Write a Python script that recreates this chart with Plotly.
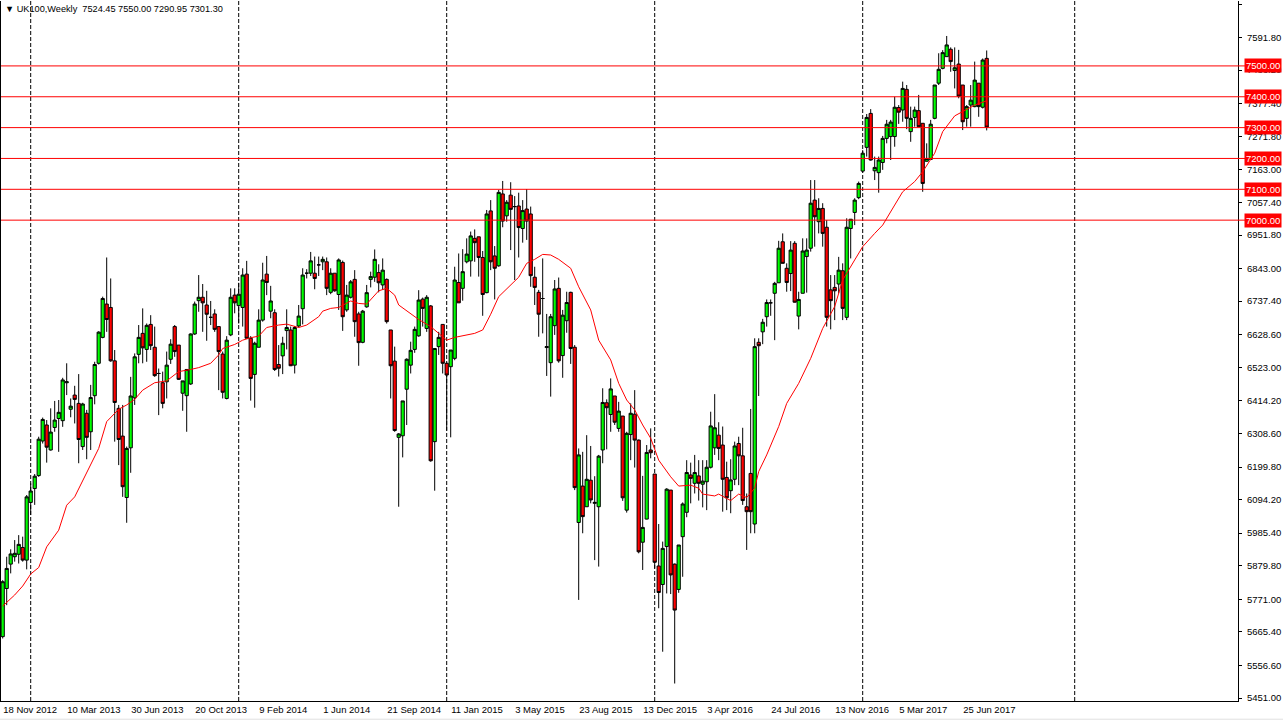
import pandas as pd
import plotly.graph_objects as go

symbol_title = "UK100,Weekly"
last_ohlc = ["7524.45", "7550.00", "7290.95", "7301.30"]
first_week = "2012-11-18"

opens = [5650,5806,5885,5909,5917,5939,5898,6085,6130,6172,6284,6336,6255,6328,6357,6350,6473,6387,6433,6406,
         6266,6374,6314,6431,6536,6620,6728,6717,6544,6390,6300,6101,6262,6424,6565,6633,6581,6662,6588,6503,
         6473,6476,6549,6655,6595,6439,6431,6469,6631,6739,6750,6725,6685,6696,6655,6566,6422,6628,6757,6723,
         6717,6825,6617,6500,6588,6676,6825,6705,6700,6532,6560,6642,6644,6530,6657,6713,6828,6828,6828,6855,
         6865,6865,6766,6828,6759,6863,6709,6750,6808,6696,6604,6719,6808,6815,6830,6790,6808,6644,6543,6296,
         6301,6452,6530,6581,6625,6744,6649,6722,6282,6590,6662,6536,6525,6552,6798,6779,6865,6868,6941,6946,
         6879,6765,7030,6884,6852,7085,7014,7081,7044,7046,6973,7036,7020,6815,6766,6746,6587,6538,6658,6779,
         6561,6674,6766,6588,6020,6138,6071,6157,6082,6071,6255,6408,6370,6430,6325,6365,6060,6305,6371,6287,
         5956,6031,6255,6177,5879,5819,5942,6125,5885,5803,5974,6053,6174,6147,6171,6144,6152,6199,6262,6303,
         6271,6166,6123,6160,6276,6236,6071,6179,6015,6604,6638,6687,6732,6763,6797,6930,6844,6827,6925,6689,
         6763,6882,6909,7065,6995,7038,6977,6774,6782,6793,6836,6685,6973,7025,7073,7159,7236,7346,7160,7154,
         7187,7265,7271,7271,7365,7357,7424,7287,7333,7355,7314,7191,7197,7330,7444,7492,7530,7554,7485,7506,
         7438,7330,7373,7368,7444,7366,7524.45]
highs = [5833,5909,5933,5963,5979,5974,6109,6147,6177,6298,6360,6352,6390,6414,6417,6489,6536,6422,6463,6501,
         6408,6385,6466,6541,6640,6752,6879,6811,6579,6401,6401,6266,6492,6568,6660,6714,6665,6692,6655,6519,
         6509,6574,6614,6660,6595,6479,6516,6633,6736,6822,6793,6771,6738,6711,6655,6574,6624,6779,6779,6797,
         6844,6868,6624,6606,6711,6862,6884,6787,6711,6595,6622,6711,6655,6657,6725,6844,6841,6897,6882,6882,
         6882,6879,6844,6828,6876,6869,6790,6806,6838,6703,6709,6790,6833,6905,6857,6876,6811,6644,6590,6310,
         6414,6552,6606,6655,6773,6749,6757,6725,6584,6638,6662,6538,6579,6849,6892,6906,6941,6963,6970,6946,
         6900,7033,7065,6916,7098,7127,7065,7123,7078,7089,7065,7101,7044,6849,6774,6876,6696,6696,6806,6814,
         6709,6768,6768,6595,6260,6249,6303,6268,6170,6239,6455,6419,6487,6430,6411,6365,6314,6406,6449,6289,
         6171,6271,6325,6177,6015,5958,6131,6125,5887,5947,6085,6222,6214,6239,6222,6222,6222,6379,6436,6345,
         6331,6217,6225,6282,6298,6327,6114,6388,6617,6617,6680,6743,6743,6800,6933,6957,6860,6932,6932,6768,
         6941,6941,7130,7130,7071,7055,7000,6822,6822,6881,6860,7006,7003,7071,7125,7227,7344,7360,7206,7206,
         7273,7325,7325,7400,7373,7449,7438,7368,7368,7406,7314,7249,7325,7438,7541,7551,7597,7560,7560,7552,
         7438,7373,7438,7514,7444,7524,7550.00]
lows = [5644,5752,5855,5893,5887,5893,5868,6044,6077,6168,6276,6214,6253,6314,6249,6330,6433,6361,6341,6212,
        6255,6225,6255,6403,6532,6617,6638,6541,6282,6206,6103,6019,6181,6401,6536,6536,6541,6579,6492,6368,
        6390,6422,6534,6557,6482,6382,6314,6466,6628,6703,6638,6609,6660,6638,6449,6422,6419,6624,6698,6665,
        6655,6617,6415,6392,6588,6671,6757,6682,6511,6493,6501,6581,6527,6503,6652,6662,6811,6819,6776,6819,
        6838,6757,6760,6768,6709,6641,6703,6746,6622,6528,6601,6716,6782,6800,6766,6774,6665,6422,6314,6071,
        6231,6336,6503,6570,6622,6655,6638,6217,6123,6563,6503,6318,6296,6546,6732,6739,6860,6817,6865,6817,
        6690,6763,6838,6743,6849,6977,6995,6903,6806,6879,6927,6936,6784,6725,6622,6633,6495,6428,6628,6538,
        6489,6635,6534,6125,5769,5985,6071,6082,5898,5877,6212,6257,6314,6336,6314,6090,6052,6222,6198,5920,
        5866,6030,6228,5871,5742,5601,5790,5788,5498,5792,5844,6037,6082,6114,6091,6069,6060,6195,6239,6222,
        6055,6060,6050,6141,6141,6077,5931,5985,5985,6430,6598,6655,6690,6611,6797,6860,6768,6770,6733,6646,
        6763,6765,6898,6914,6957,6914,6655,6646,6676,6763,6676,6676,6876,6984,7068,7154,7206,7193,7130,7089,
        7163,7249,7195,7238,7312,7319,7295,7254,7303,7303,7092,7190,7195,7327,7438,7489,7530,7481,7427,7395,
        7292,7303,7303,7366,7335,7362,7290.95]
closes = [5828,5871,5918,5920,5949,5898,6103,6122,6170,6290,6354,6264,6313,6352,6377,6482,6476,6397,6419,6289,
          6404,6296,6425,6532,6637,6746,6678,6544,6409,6289,6136,6260,6430,6557,6620,6586,6659,6593,6496,6503,
          6406,6530,6598,6574,6484,6479,6516,6631,6728,6750,6732,6695,6685,6646,6574,6442,6611,6750,6732,6760,
          6822,6617,6487,6601,6676,6806,6798,6738,6516,6520,6601,6652,6528,6652,6689,6822,6828,6868,6811,6855,
          6873,6779,6828,6771,6871,6687,6757,6800,6671,6603,6705,6765,6817,6873,6797,6838,6671,6528,6318,6307,
          6414,6549,6578,6646,6741,6714,6750,6220,6584,6620,6536,6498,6579,6806,6732,6833,6890,6949,6927,6879,
          6759,7020,6865,6844,7090,6997,7058,7035,7044,6976,7031,6997,6820,6782,6695,6746,6590,6687,6777,6544,
          6692,6733,6584,6133,6239,6039,6160,6093,6085,6235,6409,6392,6453,6345,6381,6100,6309,6374,6287,5925,
          6004,6247,6246,5891,5793,5936,6128,5850,5736,5947,6080,6182,6163,6182,6147,6154,6199,6333,6327,6260,
          6160,6100,6158,6268,6236,6091,6055,6055,6590,6593,6669,6733,6732,6795,6909,6860,6798,6903,6734,6743,
          6900,6903,7055,7011,7038,6957,6685,6739,6771,6838,6714,6977,7003,7065,7119,7217,7333,7195,7171,7195,
          7265,7311,7318,7366,7350,7427,7330,7330,7357,7303,7119,7200,7311,7438,7489,7543,7568,7514,7494,7402,
          7319,7368,7389,7454,7368,7519,7301.30]

# moving average at selected weeks (week number, value)
ma_week = [0,3,5,7,9,11,14,16,18,21,24,26,29,31,33,35,38,41,44,47,49,52,54,55,58,60,62,64,66,69,71,74,76,79,
           80,82,84,87,89,91,93,94,96,98,99,102,104,107,109,111,113,115,118,120,122,124,127,129,131,133,135,
           137,139,142,144,147,149,152,154,156,158,160,162,164,167,169,172,174,175,178,179,182,184,186,188,189,
           191,194,196,199,202,205,208,210,213,215,218,220,223,225,228,230,233,235,238,240,243,246]
ma_value = [5749,5785,5814,5853,5874,5941,5995,6076,6103,6179,6260,6347,6387,6401,6419,6449,6473,6479,6509,
            6516,6522,6536,6563,6584,6597,6611,6619,6624,6652,6660,6663,6652,6660,6687,6705,6714,6717,6738,
            6730,6728,6757,6771,6779,6757,6725,6698,6678,6655,6633,6611,6620,6625,6633,6644,6695,6752,6790,
            6815,6860,6873,6889,6887,6873,6844,6784,6709,6611,6547,6471,6417,6385,6336,6293,6222,6168,6138,
            6141,6131,6112,6106,6112,6091,6112,6101,6131,6185,6239,6331,6406,6471,6552,6649,6720,6806,6871,
            6914,6957,6984,7049,7092,7125,7157,7217,7287,7338,7352,7373,7387]

levels = [7000, 7100, 7200, 7300, 7400, 7500]
price_ticks = [7700.60, 7591.80, 7486.20, 7377.40, 7271.80, 7163.00, 7057.40, 6951.80, 6843.00, 6737.40,
               6628.60, 6523.00, 6414.20, 6308.60, 6199.80, 6094.20, 5985.40, 5879.80, 5771.00, 5665.40,
               5556.60, 5451.00]
label_every = 16
year_starts = ["2013-01-06", "2014-01-05", "2015-01-04", "2016-01-03", "2017-01-01", "2018-01-07"]

FONT = "Liberation Sans, Arial, sans-serif"
W, H = 1283, 725
ML, MR, MT, MB = 1, 45, 1, 24

start = pd.Timestamp(first_week)
dates = pd.date_range(start, periods=len(closes), freq="7D")
week = pd.Timedelta(days=7)

plot_w = W - ML - MR
weeks_visible = plot_w / 4.0
x_lo = start - 0.425 * week
x_hi = x_lo + weeks_visible * week

fig = go.Figure()
fig.add_trace(go.Candlestick(
    x=dates, open=opens, high=highs, low=lows, close=closes,
    increasing=dict(line=dict(color="black", width=1), fillcolor="#00FF00"),
    decreasing=dict(line=dict(color="black", width=1), fillcolor="#FF0000"),
    whiskerwidth=0, hoverinfo="skip", showlegend=False,
))
fig.add_trace(go.Scatter(
    x=[dates[i] for i in ma_week], y=ma_value, mode="lines",
    line=dict(color="#FF0000", width=1), hoverinfo="skip", showlegend=False,
))

shapes = []
for lv in levels:
    shapes.append(dict(type="line", xref="paper", x0=0, x1=1 + 8 / plot_w, yref="y", y0=lv, y1=lv,
                       line=dict(color="#FF0000", width=1), layer="above"))
for d in year_starts:
    shapes.append(dict(type="line", xref="x", x0=d, x1=d, yref="paper", y0=0, y1=1,
                       line=dict(color="black", width=1, dash="4px,2px"), layer="below"))
shapes.append(dict(type="line", xref="paper", x0=-0.01, x1=1.05, yref="paper", y0=-0.026, y1=-0.026,
                   line=dict(color="#E0E0E0", width=1)))

annotations = []
for lv in levels:
    annotations.append(dict(xref="paper", x=1, yref="y", y=lv, xanchor="left", yanchor="middle",
                            text=f"{lv:.2f}", showarrow=False, bgcolor="#FF0000",
                            font=dict(family=FONT, size=9.5, color="white"), borderpad=1, xshift=6))
annotations.append(dict(xref="paper", x=0, yref="paper", y=1, xanchor="left", yanchor="top",
                        text="\u25BC " + symbol_title + "  " + " ".join(last_ohlc), showarrow=False,
                        font=dict(family=FONT, size=9.2, color="black"), xshift=2, yshift=-1))

tick_dates = list(dates[::label_every])
tick_text = [f"{d.day} {d.strftime('%b %Y')}" for d in tick_dates]

fig.update_layout(
    width=W, height=H, margin=dict(l=ML, r=MR, t=MT, b=MB, autoexpand=False),
    paper_bgcolor="white", plot_bgcolor="white",
    font=dict(family=FONT, size=9.5, color="black"),
    shapes=shapes, annotations=annotations, hovermode=False,
    boxgap=0.2, boxgroupgap=0,
    xaxis=dict(range=[x_lo, x_hi], rangeslider=dict(visible=False), showgrid=False, zeroline=False,
               showline=True, linecolor="black", linewidth=1, tickvals=tick_dates, ticktext=tick_text,
               ticks="", tickangle=0, ticklabelposition="outside right", tickfont=dict(size=9.5),
               automargin=False, fixedrange=True),
    yaxis=dict(side="right", range=[5441.3, 7710.4], showgrid=False, zeroline=False, showline=True,
               mirror=True, linecolor="black", linewidth=1, tickvals=price_ticks,
               ticktext=[f"{v:.2f}" for v in price_ticks], ticks="outside", ticklen=3, tickcolor="black",
               ticklabelstandoff=3, tickfont=dict(size=9.5), automargin=False, fixedrange=True),
)

fig.write_html("out.html", config={"displayModeBar": False},
               post_script="document.body.style.margin='0px';document.body.style.overflow='hidden';")
